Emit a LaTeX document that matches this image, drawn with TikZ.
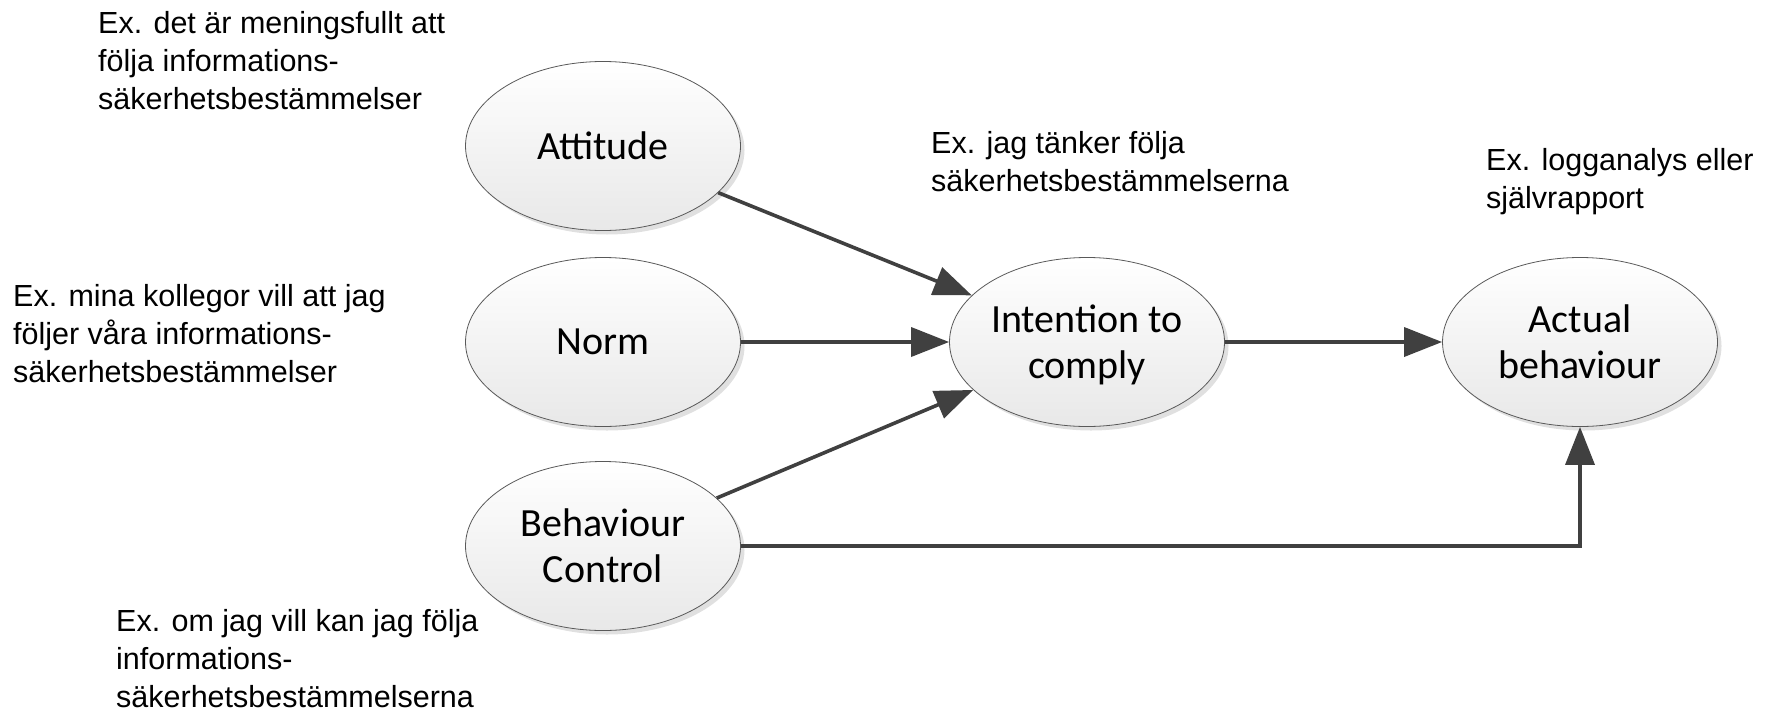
\documentclass[tikz,border=0pt]{standalone}
\usepackage{fontspec}
\setmainfont{Liberation Sans}
\newfontfamily\ellfont{Carlito}
\usetikzlibrary{shapes.geometric,arrows.meta,shadows}

\begin{document}
\begin{tikzpicture}[x=1pt,y=-1pt,
  construct/.style={ellipse, draw=black!65, line width=0.8pt,
    top color=white, bottom color=black!9,
    minimum width=275pt, minimum height=169pt, inner sep=0pt,
    align=center, font=\ellfont\fontsize{40}{46}\selectfont,
    drop shadow={shadow xshift=4pt, shadow yshift=-4pt, fill=black, opacity=0.12}},
  note/.style={anchor=north west, inner sep=0pt, align=left,
    font=\fontsize{30.5}{38}\selectfont},
  link/.style={draw=black!75, line width=3.6pt,
    -{Triangle[length=38pt,width=29pt]}}]

  \useasboundingbox (0,0) rectangle (1766,712);

  % constructs of the model
  \node[construct] (att) at (603,146) {Attitude};
  \node[construct] (norm) at (603,342) {Norm};
  \node[construct] (bc) at (603,546) {Behaviour\\Control};
  \node[construct] (int) at (1087,342) {Intention to\\\raisebox{0pt}[\height][0pt]{comply}};
  \node[construct] (act) at (1580,342) {Actual\\behaviour};

  % influences
  \draw[link] (att) -- (int);
  \draw[link] (norm) -- (int);
  \draw[link] (bc) -- (int);
  \draw[link] (int) -- (act);
  \draw[link] (bc.east) -| (act.south);

  % example statements
  \node[note] (n1) at (98,11) {Ex. det är meningsfullt att\\följa informations-\\säkerhetsbestämmelser};
  \node[note] (n2) at (13,284) {Ex. mina kollegor vill att jag\\följer våra informations-\\säkerhetsbestämmelser};
  \node[note] (n3) at (116,609) {Ex. om jag vill kan jag följa\\informations-\\säkerhetsbestämmelserna};
  \node[note] (n4) at (931,131) {Ex. jag tänker följa\\säkerhetsbestämmelserna};
  \node[note] (n5) at (1486,148) {Ex. logganalys eller\\självrapport};
\end{tikzpicture}
\end{document}
